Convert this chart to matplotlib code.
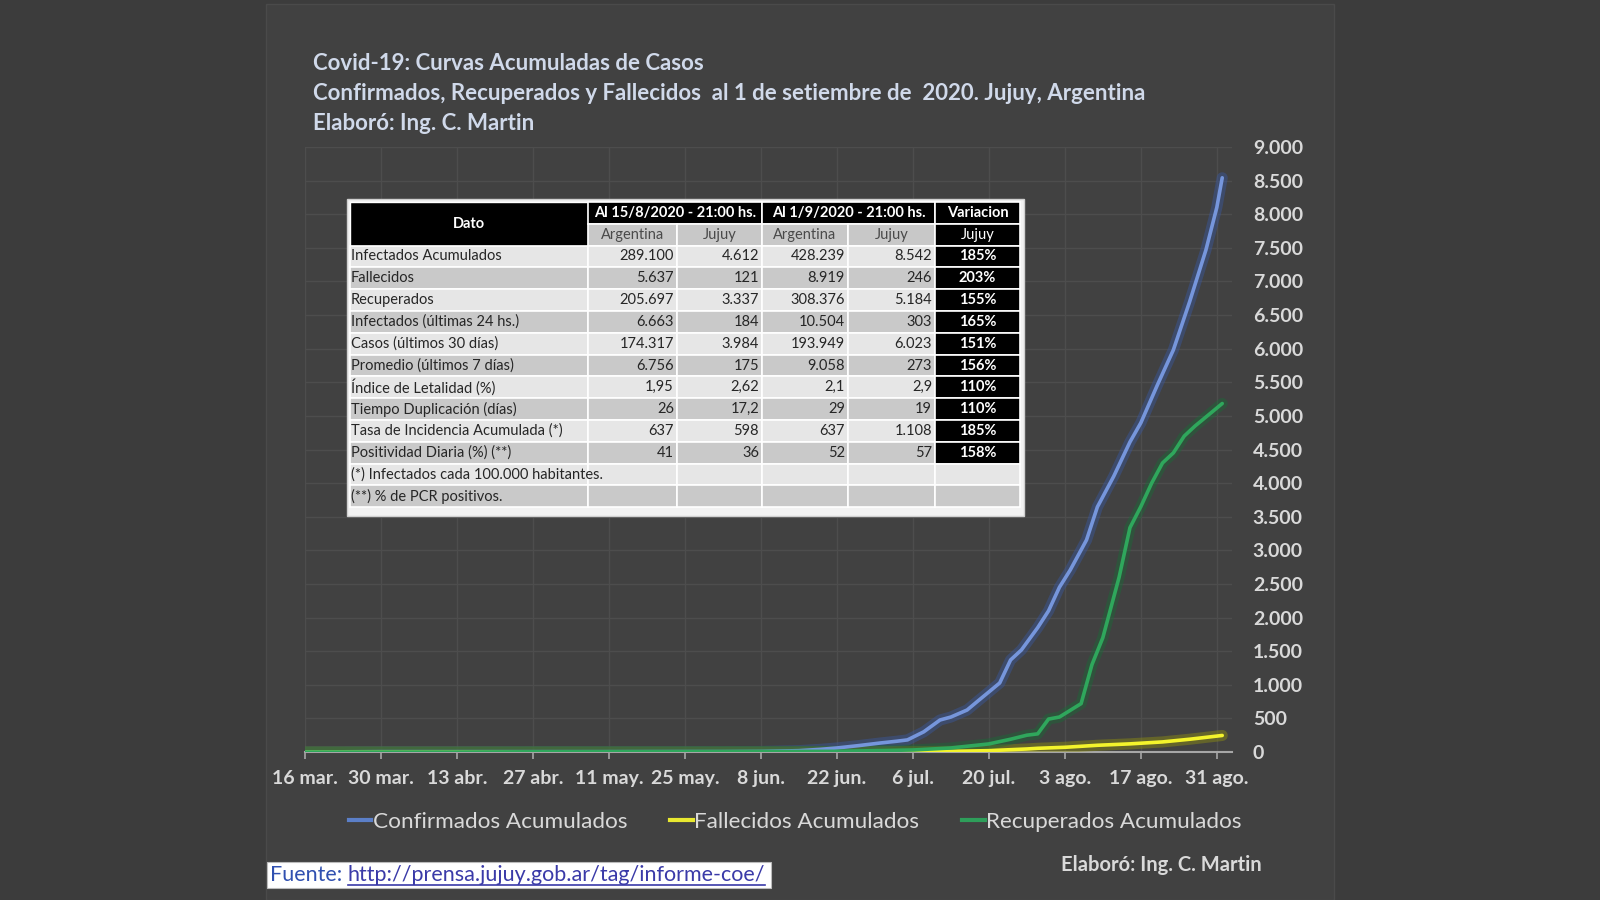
import numpy as np
import matplotlib.pyplot as plt
from matplotlib.patches import Rectangle
from matplotlib.lines import Line2D

# ---- datos ----
conf_dates = ['2020-03-16', '2020-03-19', '2020-03-23', '2020-03-30', '2020-04-13', '2020-04-27',
              '2020-05-11', '2020-05-25', '2020-06-01', '2020-06-08', '2020-06-15', '2020-06-19',
              '2020-06-22', '2020-06-26', '2020-06-30', '2020-07-03', '2020-07-05', '2020-07-08',
              '2020-07-11', '2020-07-13', '2020-07-16', '2020-07-18', '2020-07-20', '2020-07-22',
              '2020-07-24', '2020-07-26', '2020-07-29', '2020-07-31', '2020-08-02', '2020-08-04',
              '2020-08-07', '2020-08-09', '2020-08-12', '2020-08-15', '2020-08-17', '2020-08-20',
              '2020-08-23', '2020-08-26', '2020-08-29', '2020-08-31', '2020-09-01']
conf_vals = [0, 1, 3, 5, 5, 5, 5, 6, 6, 8, 20, 40, 60, 95, 134, 160, 180, 300, 476, 520, 625, 760,
             893, 1027, 1369, 1518, 1850, 2100, 2450, 2708, 3155, 3646, 4100, 4612, 4896, 5450,
             5982, 6700, 7470, 8100, 8542]

fall_dates = ['2020-03-16', '2020-05-25', '2020-06-22', '2020-07-06', '2020-07-13', '2020-07-20',
              '2020-07-27', '2020-07-29', '2020-08-03', '2020-08-09', '2020-08-15', '2020-08-21',
              '2020-08-26', '2020-09-01']
fall_vals = [0, 0, 1, 5, 10, 20, 45, 55, 70, 100, 121, 150, 190, 246]

recu_dates = ['2020-03-16', '2020-04-13', '2020-04-27', '2020-05-25', '2020-06-22', '2020-07-06',
              '2020-07-13', '2020-07-20', '2020-07-24', '2020-07-27', '2020-07-29', '2020-07-31',
              '2020-08-02', '2020-08-04', '2020-08-06', '2020-08-08', '2020-08-09', '2020-08-10',
              '2020-08-13', '2020-08-15', '2020-08-17', '2020-08-19', '2020-08-21', '2020-08-23',
              '2020-08-25', '2020-08-27', '2020-08-30', '2020-09-01']
recu_vals = [0, 0, 3, 5, 10, 30, 60, 120, 190, 250, 270, 490, 520, 620, 720, 1300, 1500, 1700,
             2600, 3337, 3650, 4000, 4300, 4450, 4700, 4850, 5050, 5184]

tick_dates = ['2020-03-16', '2020-03-30', '2020-04-13', '2020-04-27', '2020-05-11', '2020-05-25',
              '2020-06-08', '2020-06-22', '2020-07-06', '2020-07-20', '2020-08-03', '2020-08-17',
              '2020-08-31']
tick_labels = ['16 mar.', '30 mar.', '13 abr.', '27 abr.', '11 may.', '25 may.', '8 jun.',
               '22 jun.', '6 jul.', '20 jul.', '3 ago.', '17 ago.', '31 ago.']
y_ticks = list(range(0, 9001, 500))

series_names = ['Confirmados Acumulados', 'Fallecidos Acumulados', 'Recuperados Acumulados']

# tabla
tab_rows = ['Infectados Acumulados', 'Fallecidos', 'Recuperados', 'Infectados (últimas 24 hs.)',
            'Casos (últimos 30 días)', 'Promedio (últimos 7 días)', 'Índice de Letalidad (%)',
            'Tiempo Duplicación (días)', 'Tasa de Incidencia Acumulada (*)', 'Positividad Diaria (%) (**)']
arg_158 = ['289.100', '5.637', '205.697', '6.663', '174.317', '6.756', '1,95', '26', '637', '41']
juj_158 = ['4.612', '121', '3.337', '184', '3.984', '175', '2,62', '17,2', '598', '36']
arg_19 = ['428.239', '8.919', '308.376', '10.504', '193.949', '9.058', '2,1', '29', '637', '52']
juj_19 = ['8.542', '246', '5.184', '303', '6.023', '273', '2,9', '19', '1.108', '57']
variacion = ['185%', '203%', '155%', '165%', '151%', '156%', '110%', '110%', '185%', '158%']
notas = ['(*) Infectados cada 100.000 habitantes.', '(**) % de PCR positivos.']
head_top = ['Dato', 'Al 15/8/2020 - 21:00 hs.', 'Al 1/9/2020 - 21:00 hs.', 'Variacion']
head_sub = ['Argentina', 'Jujuy', 'Argentina', 'Jujuy', 'Jujuy']

title_lines = ['Covid-19: Curvas Acumuladas de Casos',
               'Confirmados, Recuperados y Fallecidos  al 1 de setiembre de  2020. Jujuy, Argentina',
               'Elaboró: Ing. C. Martin']


def to_days(d):
    return (np.array(d, dtype='datetime64[D]') - np.datetime64('2020-03-16')).astype(int)


plt.rcParams['font.family'] = ['Lato', 'DejaVu Sans']
W, H = 1600, 900
fig = plt.figure(figsize=(16, 9), dpi=100)
fig.patch.set_facecolor('#3c3c3c')
fig.add_artist(Rectangle((266 / W, 0), (1334 - 266) / W, 1 - 4 / H, transform=fig.transFigure,
                         facecolor='#414141', edgecolor='#4a4a4a', lw=1, zorder=-5))

# ---- grafico ----
ax = fig.add_axes([305 / W, 1 - 752 / H, (1232 - 305) / W, (752 - 147) / H])
ax.set_facecolor('none')
ax.set_xlim(0, 170.8)
ax.set_ylim(0, 9000)

styles = [('#7696dc', '#3a58a0'), ('#f4f42c', '#8f8f10'), ('#2fa75c', '#1b6a38')]
data = [(conf_dates, conf_vals), (fall_dates, fall_vals), (recu_dates, recu_vals)]
for (d, v), (core, glow) in zip(data, styles):
    x = to_days(d)
    ax.plot(x, v, color=glow, lw=8, alpha=0.45, solid_capstyle='round', zorder=3)
    ax.plot(x, v, color=core, lw=2.6, solid_capstyle='round', zorder=4)

ax.set_xticks(to_days(tick_dates))
ax.set_xticklabels(tick_labels)
ax.set_yticks(y_ticks)
ax.set_yticklabels([f'{v:,}'.replace(',', '.') for v in y_ticks])
ax.yaxis.tick_right()
ax.tick_params(axis='x', direction='out', length=5, width=1.2, color='#a6a6a6',
               labelcolor='#d9d9d9', labelsize=14, pad=8)
ax.tick_params(axis='y', length=0, labelcolor='#d9d9d9', labelsize=14, pad=15)
for lab in ax.get_xticklabels() + ax.get_yticklabels():
    lab.set_fontweight('bold')
ax.grid(color='#4d4d4d', lw=1, zorder=0)
for s in ['top', 'left', 'right']:
    ax.spines[s].set_visible(False)
ax.spines['bottom'].set_color('#a6a6a6')
ax.spines['bottom'].set_linewidth(1.5)

handles = [Line2D([], [], color=c, lw=3) for c in ['#5b7fc8', '#e8e830', '#2e9e5a']]
fig.legend(handles, series_names, loc='center', bbox_to_anchor=(0.497, 1 - 822 / H), ncol=3,
           frameon=False, fontsize=16.2, labelcolor='#d9d9d9', handlelength=1.0,
           handletextpad=0.08, columnspacing=1.9)

# ---- capa de textos y tabla (coordenadas en pixeles) ----
ov = fig.add_axes([0, 0, 1, 1], zorder=10)
ov.set_xlim(0, W)
ov.set_ylim(H, 0)
ov.axis('off')
ov.set_facecolor('none')

for i, t in enumerate(title_lines):
    ov.text(313, 64 + i * 29.5, t, color='#d0d9ea', fontsize=16, fontweight='bold', va='center')

ov.text(1262, 865, 'Elaboró: Ing. C. Martin', color='#d9d9d9', fontsize=14.5, fontweight='bold',
        ha='right', va='center')

# fuente
ov.add_patch(Rectangle((267, 862), 504, 26, facecolor='white', edgecolor='#bbbbbb', lw=0.8))
t1 = ov.text(270, 875, 'Fuente: ', color='#3050b0', fontsize=15.5, va='center')
fig.canvas.draw()
r = fig.canvas.get_renderer()
bb = t1.get_window_extent(r)
x_link = bb.x1
t2 = ov.text(x_link, 875, 'http://prensa.jujuy.gob.ar/tag/informe-coe/', color='#3a3aa8',
             fontsize=15.5, va='center')
bb2 = t2.get_window_extent(r)
ov.plot([bb2.x0, bb2.x1], [885, 885], color='#3a3aa8', lw=1.2)

# tabla
col_x = [350, 588, 677, 762, 848, 935, 1020]
row_h = 21.8
y0 = 202
ov.add_patch(Rectangle((347, 199), 1024 - 347, 516 - 199, facecolor='#f2f2f2',
                       edgecolor='#d0d0d0', lw=1))
fs = 10.5
# encabezado
ov.add_patch(Rectangle((col_x[0], y0), col_x[1] - col_x[0], 2 * row_h, facecolor='black',
                       edgecolor='white', lw=1))
ov.text((col_x[0] + col_x[1]) / 2, y0 + row_h, head_top[0], color='white', fontsize=fs,
        fontweight='bold', ha='center', va='center')
for k, (a, b) in enumerate([(1, 3), (3, 5), (5, 6)]):
    ov.add_patch(Rectangle((col_x[a], y0), col_x[b] - col_x[a], row_h, facecolor='black',
                           edgecolor='white', lw=1.2))
    ov.text((col_x[a] + col_x[b]) / 2, y0 + row_h / 2, head_top[k + 1], color='white',
            fontsize=fs, fontweight='bold', ha='center', va='center')
for j, s in enumerate(head_sub):
    fc = 'black' if j == 4 else '#c8c8c8'
    tc = 'white' if j == 4 else '#4a4a4a'
    ov.add_patch(Rectangle((col_x[j + 1], y0 + row_h), col_x[j + 2] - col_x[j + 1], row_h,
                           facecolor=fc, edgecolor='white', lw=1.2))
    ov.text((col_x[j + 1] + col_x[j + 2]) / 2, y0 + 1.5 * row_h, s, color=tc, fontsize=fs,
            ha='center', va='center')

# cuerpo
yb = y0 + 2 * row_h
cols = [arg_158, juj_158, arg_19, juj_19]
for i in range(len(tab_rows) + len(notas)):
    yy = yb + i * row_h
    fc = '#e6e6e6' if i % 2 == 0 else '#c9c9c9'
    for j in range(6):
        cfc = fc
        if j == 5 and i < len(tab_rows):
            cfc = 'black'
        ov.add_patch(Rectangle((col_x[j], yy), col_x[j + 1] - col_x[j], row_h, facecolor=cfc,
                               edgecolor='white', lw=1.2))
    if i < len(tab_rows):
        ov.text(col_x[0] + 1, yy + row_h / 2, tab_rows[i], color='#262626', fontsize=fs,
                va='center')
        for j, c in enumerate(cols):
            ov.text(col_x[j + 2] - 3, yy + row_h / 2, c[i], color='#262626', fontsize=fs,
                    ha='right', va='center')
        ov.text((col_x[5] + col_x[6]) / 2, yy + row_h / 2, variacion[i], color='white',
                fontsize=fs, fontweight='bold', ha='center', va='center')
    else:
        ov.text(col_x[0] + 1, yy + row_h / 2, notas[i - len(tab_rows)], color='#262626',
                fontsize=fs, va='center')

fig.savefig('out.png', dpi=100, facecolor=fig.get_facecolor())
